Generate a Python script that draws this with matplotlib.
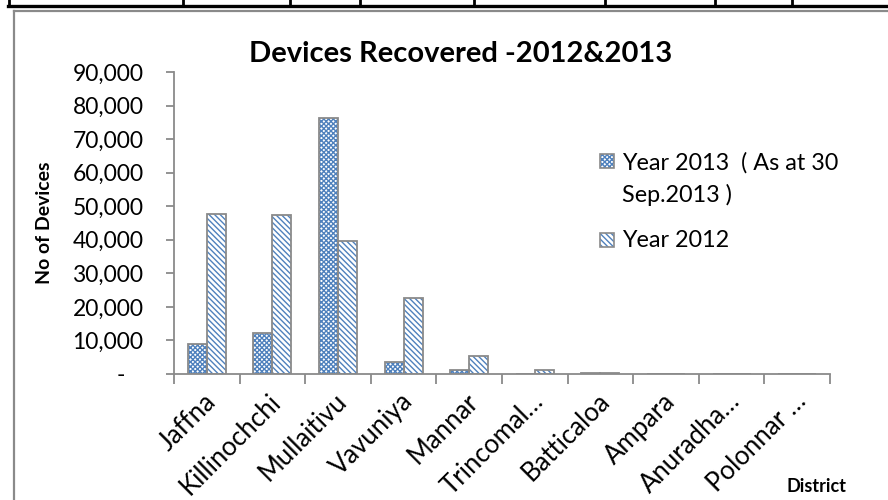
import matplotlib
matplotlib.use("Agg")
import matplotlib.pyplot as plt
from matplotlib.patches import Rectangle
from matplotlib.lines import Line2D
from matplotlib.ticker import FixedLocator, FuncFormatter
from matplotlib.transforms import ScaledTranslation
import numpy as np

# ---- data ----
districts = ['Jaffna', 'Killinochchi', 'Mullaitivu', 'Vavuniya', 'Mannar',
             'Trincomal\u2026', 'Batticaloa', 'Ampara', 'Anuradha\u2026', 'Polonnar \u2026']
year_2013 = [8850, 12100, 76200, 3700, 1300, 50, 400, 100, 20, 80]
year_2012 = [47700, 47500, 39600, 22550, 5400, 1100, 300, 100, 20, 30]
y_ticks = [0, 10000, 20000, 30000, 40000, 50000, 60000, 70000, 80000, 90000]
series_labels = ['Year 2013  ( As at 30\nSep.2013 )', 'Year 2012']
title = 'Devices Recovered -2012&2013'

plt.rcParams['font.family'] = ['Lato', 'DejaVu Sans']
plt.rcParams['hatch.linewidth'] = 1.0

W, H = 888, 500
BLUE = '#4F81BD'
GRAY = '#8A8A8A'
HATCH13 = 'x' * 7
HATCH12 = '\\' * 6

def fx(x):
    return x / W

def fy(y):
    return 1 - y / H

fig = plt.figure(figsize=(W / 100, H / 100), dpi=100)
ax = fig.add_axes([fx(174), fy(374), (830 - 174) / W, (374 - 72) / H])

x = np.arange(len(districts))
bw = 0.29
# hatch layer
ax.bar(x - bw / 2, year_2013, bw, color='white', edgecolor=BLUE, hatch=HATCH13, linewidth=0)
ax.bar(x + bw / 2, year_2012, bw, color='white', edgecolor=BLUE, hatch=HATCH12, linewidth=0)
# outline layer
ax.bar(x - bw / 2, year_2013, bw, fill=False, edgecolor=GRAY, linewidth=1.3)
ax.bar(x + bw / 2, year_2012, bw, fill=False, edgecolor=GRAY, linewidth=1.3)

ax.set_xlim(-0.5, len(districts) - 0.5)
ax.set_ylim(0, 90000)

for s in ['top', 'right']:
    ax.spines[s].set_visible(False)
for s in ['left', 'bottom']:
    ax.spines[s].set_color(GRAY)
    ax.spines[s].set_linewidth(1.3)

ax.yaxis.set_major_locator(FixedLocator(y_ticks))
ax.yaxis.set_major_formatter(FuncFormatter(lambda v, p: '-   ' if v == 0 else f'{int(v):,}'))
ax.tick_params(axis='y', direction='out', length=6, width=1.3, color=GRAY,
               labelsize=16.5, pad=16, labelcolor='black')

ax.set_xticks(x)
ax.set_xticklabels(districts, rotation=45, ha='right', va='center', rotation_mode='anchor')
ax.set_xticks(np.arange(len(districts) + 1) - 0.5, minor=True)
ax.tick_params(axis='x', which='major', length=0, labelsize=18.5, pad=17)
ax.tick_params(axis='x', which='minor', direction='out', length=7, width=1.3, color=GRAY)
shift = ScaledTranslation(5 / 100, 0, fig.dpi_scale_trans)
for lab in ax.get_xticklabels():
    lab.set_transform(lab.get_transform() + shift)

fig.text(fx(461), fy(62), title, ha='center', va='baseline',
         fontsize=21, fontweight='bold')
fig.text(fx(44), fy(223), 'No of Devices', rotation=90, ha='center', va='center',
         fontsize=14, fontweight='bold')
fig.text(fx(846), fy(492), 'District', ha='right', va='baseline',
         fontsize=13, fontweight='bold')

# legend (manual)
for (yc, hatch) in [(161, HATCH13), (240, HATCH12)]:
    r = Rectangle((fx(600), fy(yc + 7)), 14 / W, 14 / H, transform=fig.transFigure,
                  facecolor='white', edgecolor=BLUE, hatch=hatch, linewidth=0)
    fig.add_artist(r)
    r2 = Rectangle((fx(600), fy(yc + 7)), 14 / W, 14 / H, transform=fig.transFigure,
                   fill=False, edgecolor=GRAY, linewidth=1.2)
    fig.add_artist(r2)
line_a, line_b = series_labels[0].split('\n')
fig.text(fx(622), fy(170), line_a, ha='left', va='baseline', fontsize=16.8)
fig.text(fx(622), fy(202), line_b, ha='left', va='baseline', fontsize=16.8)
fig.text(fx(622), fy(247), series_labels[1], ha='left', va='baseline', fontsize=16.8)

# chart frame and table border
fig.add_artist(Line2D([fx(14), fx(14)], [fy(11), 0], transform=fig.transFigure,
                      color=GRAY, linewidth=1.6))
fig.add_artist(Line2D([fx(14), 1], [fy(11), fy(11)], transform=fig.transFigure,
                      color=GRAY, linewidth=1.6))
fig.add_artist(Line2D([fx(8), 1], [fy(5.5), fy(5.5)], transform=fig.transFigure,
                      color='black', linewidth=2.4))
for vx in [9, 183, 290, 360, 474, 605, 715, 792]:
    fig.add_artist(Line2D([fx(vx), fx(vx)], [1, fy(5.5)], transform=fig.transFigure,
                          color='black', linewidth=2.0))

fig.savefig('out.png', dpi=100)
